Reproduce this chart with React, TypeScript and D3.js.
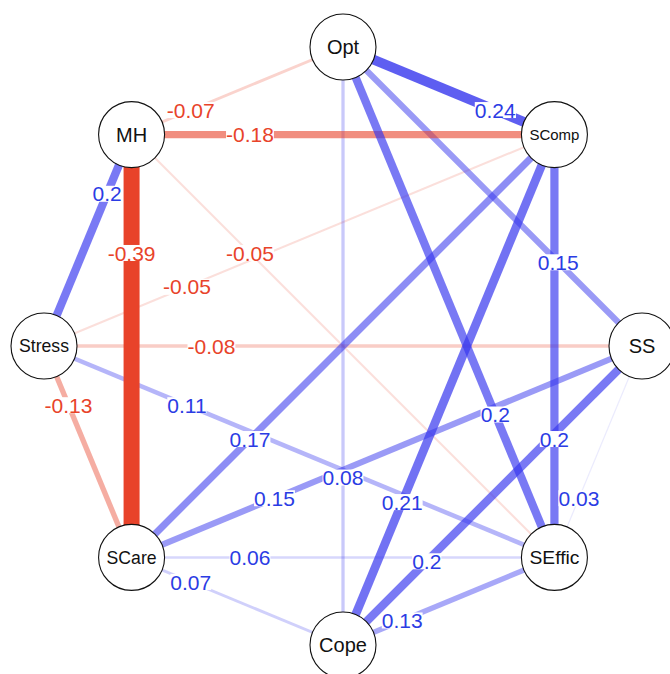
import { useEffect, useRef } from 'react'
import * as d3 from 'd3'

// nodes clockwise from the top
const NODES = ['Opt', 'SComp', 'SS', 'SEffic', 'Cope', 'SCare', 'Stress', 'MH']

// [from, to, partial correlation]
const EDGES: [string, string, number][] = [
  ['Opt', 'SComp', 0.24],
  ['Opt', 'SS', 0.15],
  ['Opt', 'SEffic', 0.2],
  ['Opt', 'Cope', 0.08],
  ['Opt', 'MH', -0.07],
  ['SComp', 'SEffic', 0.2],
  ['SComp', 'Cope', 0.21],
  ['SComp', 'SCare', 0.17],
  ['SComp', 'Stress', -0.05],
  ['SComp', 'MH', -0.18],
  ['SS', 'SEffic', 0.03],
  ['SS', 'Cope', 0.2],
  ['SS', 'SCare', 0.15],
  ['SS', 'Stress', -0.08],
  ['SEffic', 'Cope', 0.13],
  ['SEffic', 'SCare', 0.06],
  ['SEffic', 'Stress', 0.11],
  ['SEffic', 'MH', -0.05],
  ['Cope', 'SCare', 0.07],
  ['SCare', 'Stress', -0.13],
  ['SCare', 'MH', -0.39],
  ['Stress', 'MH', 0.2],
]

const W = 670
const H = 674
const CX = 343
const CY = 346
const R = 299
const NODE_R = 33
const POS = '#3636EE'
const NEG = '#E8432A'
const POS_TXT = '#2B3CE4'
const NEG_TXT = '#E8432A'
const FONT = '"Liberation Sans", Arial, Helvetica, sans-serif'

export default function App() {
  const svgRef = useRef<SVGSVGElement>(null)

  useEffect(() => {
    if (!svgRef.current) return
    const svg = d3.select(svgRef.current)
    svg.selectAll('*').remove()

    const angle = d3.scalePoint<string>().domain(NODES).range([0, 2 * Math.PI * (NODES.length - 1) / NODES.length])
    const pos = new Map(NODES.map((n) => {
      const a = (angle(n) ?? 0) - Math.PI / 2
      return [n, { x: CX + R * Math.cos(a), y: CY + R * Math.sin(a) }]
    }))
    const maxW = d3.max(EDGES, (e) => Math.abs(e[2])) ?? 1
    const width = d3.scaleLinear().domain([0, maxW]).range([0, 16])
    const alpha = d3.scaleLinear().domain([0, 0.3]).range([0, 1]).clamp(true)

    const sorted = [...EDGES].sort((a, b) => Math.abs(a[2]) - Math.abs(b[2]))

    svg.append('g').selectAll('line').data(sorted).join('line')
      .attr('x1', (d) => pos.get(d[0])!.x).attr('y1', (d) => pos.get(d[0])!.y)
      .attr('x2', (d) => pos.get(d[1])!.x).attr('y2', (d) => pos.get(d[1])!.y)
      .attr('stroke', (d) => (d[2] > 0 ? POS : NEG))
      .attr('stroke-opacity', (d) => alpha(Math.abs(d[2])))
      .attr('stroke-width', (d) => width(Math.abs(d[2])))

    // edge labels sit 72% of the way along each edge
    const T = 0.72
    const lab = svg.append('g').selectAll('g').data(sorted).join('g')
      .attr('transform', (d) => {
        const a = pos.get(d[0])!, b = pos.get(d[1])!
        return `translate(${a.x + T * (b.x - a.x)},${a.y + T * (b.y - a.y)})`
      })
    const fmt = (v: number) => String(+v.toFixed(2))
    lab.append('rect').attr('fill', 'white')
    lab.append('text')
      .attr('text-anchor', 'middle').attr('dy', '0.36em')
      .attr('font-family', FONT).attr('font-size', 21)
      .attr('fill', (d) => (d[2] > 0 ? POS_TXT : NEG_TXT))
      .text((d) => fmt(d[2]))
    lab.each(function () {
      const g = d3.select(this)
      const bb = (g.select('text').node() as SVGTextElement).getBBox()
      g.select('rect').attr('x', bb.x).attr('y', -8).attr('width', bb.width).attr('height', 16)
    })

    // nodes, with labels shrunk to fit the circle
    const ng = svg.append('g').selectAll('g').data(NODES).join('g')
      .attr('transform', (d) => `translate(${pos.get(d)!.x},${pos.get(d)!.y})`)
    ng.append('circle').attr('r', NODE_R).attr('fill', 'white').attr('stroke', '#111').attr('stroke-width', 1.1)
    ng.append('text').attr('text-anchor', 'middle').attr('dy', '0.36em')
      .attr('font-family', FONT).attr('font-size', 20).attr('fill', '#111').text((d) => d)
      .each(function () {
        const t = this as SVGTextElement
        const w = t.getComputedTextLength()
        const fs = Math.min(20, (20 * 50) / w)
        d3.select(t).attr('font-size', fs)
      })
  }, [])

  return (
    <div style={{ position: 'absolute', left: 0, top: 0, width: W, height: H, background: 'white' }}>
      <svg ref={svgRef} width={W} height={H} style={{ display: 'block' }} />
    </div>
  )
}
